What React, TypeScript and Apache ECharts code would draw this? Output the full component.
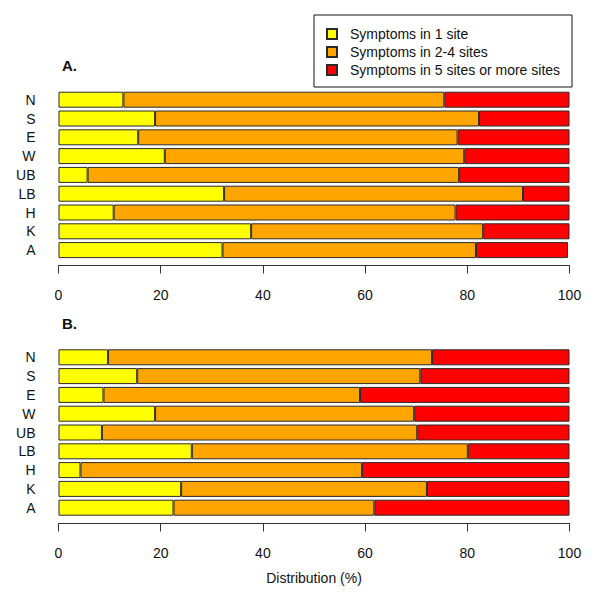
import React, { useEffect, useRef } from "react";
import * as echarts from "echarts";

const categories = ["N", "S", "E", "W", "UB", "LB", "H", "K", "A"];
const seriesNames = [
  "Symptoms in 1 site",
  "Symptoms in 2-4 sites",
  "Symptoms in 5 sites or more sites",
];
const xTicks = [0, 20, 40, 60, 80, 100];

// Panel A
const a1Site = [12.7, 18.9, 15.6, 20.8, 5.7, 32.4, 10.8, 37.7, 32.1];
const a2to4 = [62.8, 63.4, 62.5, 58.6, 72.7, 58.5, 66.9, 45.4, 49.6];
const a5plus = [24.5, 17.7, 21.9, 20.6, 21.6, 9.1, 22.3, 16.9, 18.0];

// Panel B
const b1Site = [9.7, 15.4, 8.8, 18.9, 8.5, 26.1, 4.3, 24.0, 22.5];
const b2to4 = [63.4, 55.4, 50.2, 50.7, 61.7, 54.0, 55.1, 48.1, 39.3];
const b5plus = [26.9, 29.2, 41.0, 30.4, 29.8, 19.9, 40.6, 27.9, 38.2];

const colors = ["#FFFF00", "#FFA500", "#FF0000"];
const FONT = "Liberation Sans, Arial, sans-serif";

export default function App() {
  const ref = useRef<HTMLDivElement>(null);
  useEffect(() => {
    if (!ref.current) return;
    document.body.style.margin = "0";
    const chart = echarts.init(ref.current, null, { renderer: "svg" });
    const panels = [
      [a1Site, a2to4, a5plus],
      [b1Site, b2to4, b5plus],
    ];
    const series: any[] = [];
    panels.forEach((p, pi) => {
      p.forEach((vals, si) => {
        series.push({
          name: seriesNames[si],
          type: "bar",
          stack: "p" + pi,
          xAxisIndex: pi,
          yAxisIndex: pi,
          barWidth: 16,
          data: vals,
          itemStyle: {
            color: colors[si],
            borderColor: "#2a2a2a",
            borderWidth: 1,
          },
        });
      });
    });
    const xAxisBase = (idx: number, offset: number, withName: boolean) => ({
      type: "value",
      gridIndex: idx,
      min: xTicks[0],
      max: xTicks[xTicks.length - 1],
      interval: 20,
      offset,
      splitLine: { show: false },
      axisLine: { show: true, lineStyle: { color: "#333", width: 1 } },
      axisTick: { show: true, length: 8, lineStyle: { color: "#333" } },
      axisLabel: { fontSize: 14, color: "#111", fontFamily: FONT, margin: 22 },
      name: withName ? "Distribution (%)" : "",
      nameLocation: "middle",
      nameGap: 47,
      nameTextStyle: { fontSize: 14, color: "#111", fontFamily: FONT },
    });
    const yAxisBase = (idx: number) => ({
      type: "category",
      gridIndex: idx,
      data: categories,
      inverse: true,
      axisLine: { show: false },
      axisTick: { show: false },
      axisLabel: { fontSize: 14, color: "#111", fontFamily: FONT, margin: 23 },
    });
    chart.setOption({
      animation: false,
      textStyle: { fontFamily: FONT },
      title: [
        {
          text: "A.",
          left: 62,
          top: 58,
          padding: 0,
          textStyle: { fontSize: 15, fontWeight: "bold", color: "#111", fontFamily: FONT },
        },
        {
          text: "B.",
          left: 62,
          top: 316,
          padding: 0,
          textStyle: { fontSize: 15, fontWeight: "bold", color: "#111", fontFamily: FONT },
        },
      ],
      graphic: [
        {
          type: "rect",
          shape: { x: 314, y: 15, width: 258, height: 72 },
          style: { fill: "#fff", stroke: "#111", lineWidth: 1 },
          z: 0,
        },
      ],
      legend: {
        data: seriesNames,
        orient: "vertical",
        left: 315,
        top: 16,
        padding: [9, 8, 8, 11],
        itemGap: 0,
        itemWidth: 10,
        itemHeight: 10,
        icon: "rect",
        selectedMode: false,
        textStyle: {
          fontSize: 14,
          color: "#111",
          fontFamily: FONT,
          lineHeight: 18,
          padding: [0, 0, 0, 8],
        },
        z: 5,
      },
      grid: [
        { left: 58.5, right: 30.5, top: 90.3, height: 169.2 },
        { left: 58.5, right: 30.5, top: 347.9, height: 169.2 },
      ],
      xAxis: [xAxisBase(0, 6, false), xAxisBase(1, 6.4, true)],
      yAxis: [yAxisBase(0), yAxisBase(1)],
      series,
    });
    return () => chart.dispose();
  }, []);
  return <div ref={ref} style={{ width: 600, height: 595 }} />;
}
